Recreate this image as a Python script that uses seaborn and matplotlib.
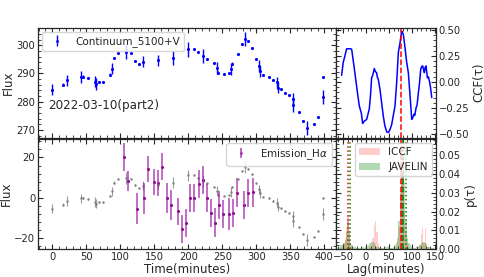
import numpy as np
import pandas as pd
import matplotlib
matplotlib.use("Agg")
import matplotlib.pyplot as plt
from matplotlib.ticker import AutoMinorLocator, MultipleLocator
import seaborn as sns

# ---------------- data ----------------
cont_t = [0.0, 15.3, 21.1, 41.7, 44.6, 53.0, 63.3, 64.3, 68.7, 74.0, 84.8, 87.3, 90.7, 96.1,
          108.4, 116.2, 122.1, 128.0, 133.9, 155.0, 178.0, 199.8, 208.8, 214.7, 221.0, 227.0,
          238.0, 242.0, 244.0, 253.0, 259.4, 262.8, 264.7, 272.6, 278.5, 283.9, 287.8, 293.2,
          299.1, 304.5, 306.0, 310.4, 318.2, 324.0, 330.0, 331.4, 335.8, 341.6, 347.6, 353.5,
          353.5, 362.8, 368.7, 374.5, 384.9, 390.7, 398.0, 398.6]
cont_f = [284.2, 286.0, 287.5, 288.7, 288.8, 288.3, 287.1, 286.3, 286.9, 287.0, 289.5, 291.7,
          295.5, 297.1, 297.5, 297.1, 294.4, 293.3, 294.2, 294.6, 295.5, 298.5, 298.5, 297.5,
          296.1, 295.1, 293.7, 291.9, 290.2, 289.8, 290.0, 291.4, 293.5, 296.9, 300.5, 302.1,
          301.5, 299.0, 295.2, 292.6, 290.8, 289.3, 288.7, 287.6, 286.8, 285.0, 284.4, 283.2,
          282.4, 281.1, 278.7, 276.2, 273.1, 270.8, 272.1, 274.4, 281.8, 288.9]
cont_e = [2.0, 0.5, 2.0, 2.0, 0.5, 0.3, 2.0, 2.0, 0.3, 0.3, 0.5, 2.0, 0.5, 0.3, 2.5, 0.3, 0.3,
          0.3, 2.0, 2.0, 2.5, 2.5, 0.3, 0.3, 2.5, 0.3, 0.3, 2.0, 0.5, 0.3, 0.3, 2.0, 0.5, 0.3,
          0.3, 2.5, 0.3, 0.3, 0.3, 2.0, 2.0, 0.3, 0.3, 0.3, 2.0, 2.0, 0.3, 0.3, 0.3, 2.0, 2.5,
          0.3, 0.3, 2.5, 0.3, 0.3, 2.5, 0.3]

gray_f = [-5.3, -3.3, -1.6, -0.2, -0.1, -0.6, -2.0, -2.9, -2.2, -2.1, 0.8, 3.3, 7.6, 9.5,
          9.9, 9.5, 6.4, 5.1, 6.1, 6.6, 7.6, 11.1, 11.1, 9.9, 8.3, 7.2, 5.6, 3.5, 1.6, 1.1,
          1.3, 2.9, 5.3, 9.2, 13.4, 15.2, 14.5, 11.6, 7.3, 4.3, 2.2, 0.5, -0.2, -1.4, -2.4,
          -4.4, -5.1, -6.5, -7.4, -8.9, -11.6, -14.5, -18.1, -20.7, -19.2, -16.6, -8.1, 0.1]
gray_e = [2.3, 0.6, 2.3, 2.3, 0.6, 0.3, 2.3, 2.3, 0.3, 0.3, 0.6, 2.3, 0.6, 0.3, 2.9, 0.3, 0.3,
          0.3, 2.3, 2.3, 2.9, 2.9, 0.3, 0.3, 2.9, 0.3, 0.3, 2.3, 0.6, 0.3, 0.3, 2.3, 0.6, 0.3,
          0.3, 2.9, 0.3, 0.3, 0.3, 2.3, 2.3, 0.3, 0.3, 0.3, 2.3, 2.3, 0.3, 0.3, 0.3, 2.3, 2.9,
          0.3, 0.3, 2.9, 0.3, 0.3, 2.9, 0.3]

ha_t = [105.9, 111.8, 124.0, 135.3, 141.2, 150.0, 155.9, 161.8, 169.2, 175.0, 184.4, 190.3,
        196.0, 201.8, 207.6, 215.3, 221.4, 227.0, 232.9, 238.8, 244.7, 250.6, 260.4, 266.2,
        272.1, 282.2, 288.0, 295.1]
ha_f = [20.2, 8.5, -5.3, -0.3, 14.3, 7.7, 7.2, 15.5, -0.2, -3.5, -6.7, -15.5, -12.6, -0.1,
        -0.1, 6.7, 8.8, -0.2, -7.5, -12.2, -3.6, -8.0, -7.9, -7.5, 2.6, -3.6, 2.5, 2.7]
ha_e = [7.0, 5.0, 7.5, 7.5, 6.5, 6.5, 6.5, 6.5, 7.5, 7.5, 6.5, 7.0, 7.0, 7.0, 7.0, 7.0, 7.0,
        7.0, 7.0, 7.0, 7.0, 7.0, 8.0, 7.0, 7.0, 7.0, 7.0, 7.0]

ccf_lag = [-52.8, -49.3, -45.7, -42.0, -38.0, -33.3, -31.0, -26.0, -20.3, -14.5, -10.0, -7.2,
           -4.3, 1.5, 7.2, 10.0, 12.3, 15.0, 18.1, 20.5, 23.2, 24.5, 26.8, 30.4, 37.7, 41.0,
           45.0, 48.6, 52.0, 55.8, 63.0, 67.0, 70.3, 74.0, 77.5, 79.0, 81.0, 84.0, 88.4, 92.0,
           97.8, 99.3, 102.0, 104.3, 106.0, 108.7, 111.0, 113.8, 116.0, 118.8, 121.0, 123.2,
           125.0, 126.8, 128.5, 130.4, 133.3, 135.5, 137.7, 140.0, 142.8]
ccf_val = [0.065, 0.19, 0.25, 0.32, 0.32, 0.32, 0.315, 0.155, -0.04, -0.23, -0.30, -0.40,
           -0.38, -0.36, -0.26, -0.12, 0.04, 0.07, 0.13, 0.10, 0.09, 0.05, 0.026, -0.07,
           -0.33, -0.42, -0.48, -0.485, -0.46, -0.41, -0.23, 0.02, 0.285, 0.38, 0.49, 0.48,
           0.46, 0.36, 0.19, 0.09, -0.26, -0.36, -0.34, -0.31, -0.32, -0.25, -0.22, -0.10,
           -0.02, 0.12, 0.15, 0.155, 0.12, 0.09, 0.14, 0.155, 0.04, 0.05, 0.01, -0.05, -0.15]

# histogram bin centres: -60, -57, ..., 150 (width 3)
hist_lag = list(range(-60, 151, 3))
iccf_p = [0.0, 0.0, 0.0, 0.001, 0.003, 0.006, 0.012, 0.018, 0.010, 0.004,      # -60..-33
          0.001, 0.0, 0.0, 0.0, 0.0, 0.0, 0.0, 0.0, 0.0, 0.0,                   # -30..-3
          0.0, 0.0, 0.0, 0.001, 0.002, 0.006, 0.013, 0.015, 0.009, 0.003,       # 0..27
          0.001, 0.0, 0.0, 0.0, 0.0, 0.0, 0.0, 0.0, 0.0, 0.0,                   # 30..57
          0.0, 0.0, 0.001, 0.004, 0.012, 0.030, 0.048, 0.040, 0.020, 0.008,     # 60..87
          0.003, 0.001, 0.0, 0.0, 0.0, 0.0, 0.0, 0.0, 0.0, 0.002,               # 90..117
          0.008, 0.011, 0.004, 0.011, 0.003, 0.001, 0.0, 0.0, 0.0, 0.0,         # 120..147
          0.0]                                                                  # 150
jav_p = [0.001, 0.001, 0.002, 0.002, 0.003, 0.005, 0.009, 0.015, 0.008, 0.003,
         0.002, 0.001, 0.001, 0.0005, 0.0005, 0.0005, 0.0005, 0.001, 0.001, 0.0005,
         0.001, 0.001, 0.002, 0.003, 0.004, 0.004, 0.003, 0.002, 0.001, 0.001,
         0.0005, 0.0005, 0.0005, 0.0005, 0.001, 0.001, 0.001, 0.001, 0.0005, 0.0005,
         0.001, 0.002, 0.003, 0.006, 0.015, 0.030, 0.045, 0.050, 0.035, 0.015,
         0.006, 0.003, 0.002, 0.001, 0.0005, 0.0005, 0.0005, 0.001, 0.001, 0.002,
         0.003, 0.004, 0.003, 0.003, 0.002, 0.001, 0.001, 0.0005, 0.0005, 0.0005,
         0.0]

iccf_med = 76.0
iccf_lims = [-40.0, 78.0]
jav_med = 81.0
jav_lims = [-35.0, 86.0]

# ---------------- style ----------------
sns.set_style("ticks")
plt.rcParams['font.family'] = ['DejaVu Sans']
plt.rcParams['xtick.direction'] = 'in'
plt.rcParams['ytick.direction'] = 'in'
plt.rcParams['axes.linewidth'] = 0.9

TICK = 7.2
LAB = 8.5
LEG = 7.5

fig = plt.figure(figsize=(4.85, 2.77), dpi=100)
L, M, R = 38 / 485, 336 / 485, 436 / 485
T, MT, MB, B = 1 - 28 / 277, 1 - 137.5 / 277, 1 - 138.5 / 277, 1 - 249 / 277
ax1 = fig.add_axes([L, MT, M - L, T - MT])
ax2 = fig.add_axes([L, B, M - L, MB - B])
ax3 = fig.add_axes([M, MT, R - M, T - MT])
ax4 = fig.add_axes([M, B, R - M, MB - B])


def style(ax):
    ax.tick_params(which='both', direction='in', top=True, right=True, left=True, bottom=True,
                   labelsize=TICK, pad=2)
    ax.tick_params(which='major', length=3.5, width=0.8)
    ax.tick_params(which='minor', length=2, width=0.6)
    ax.xaxis.set_minor_locator(AutoMinorLocator(5))
    ax.yaxis.set_minor_locator(AutoMinorLocator(5))


# top-left continuum
dfc = pd.DataFrame({'t': cont_t, 'f': cont_f, 'e': cont_e})
ax1.errorbar(dfc['t'], dfc['f'], yerr=dfc['e'], fmt='none', ecolor='blue', elinewidth=1.0)
sns.scatterplot(data=dfc, x='t', y='f', ax=ax1, color='blue', s=5, linewidth=0, legend=False)
h1 = ax1.errorbar([], [], yerr=[], fmt='.', color='blue', ms=2, elinewidth=1.0)
ax1.legend([h1], ['Continuum_5100+V'], loc='upper left', fontsize=LEG, handlelength=2,
           borderpad=0.4, borderaxespad=0.4, frameon=True)
ax1.set_xlim(-21, 417)
ax1.set_ylim(267.3, 306.1)
ax1.xaxis.set_major_locator(MultipleLocator(50))
ax1.set_yticks([270, 280, 290, 300])
ax1.set_xlabel('')
ax1.set_ylabel('Flux', fontsize=LAB, labelpad=1)
ax1.text(0.035, 0.29, '2022-03-10(part2)', transform=ax1.transAxes, fontsize=8.6,
         va='center', ha='left')
style(ax1)
ax1.tick_params(labelbottom=False)

# bottom-left emission
dfg = pd.DataFrame({'t': cont_t, 'f': gray_f, 'e': gray_e})
dfh = pd.DataFrame({'t': ha_t, 'f': ha_f, 'e': ha_e})
ax2.errorbar(dfg['t'], dfg['f'], yerr=dfg['e'], fmt='none', ecolor='gray', elinewidth=0.8,
             alpha=0.8)
sns.scatterplot(data=dfg, x='t', y='f', ax=ax2, color='gray', s=3, linewidth=0, legend=False)
ax2.errorbar(dfh['t'], dfh['f'], yerr=dfh['e'], fmt='none', ecolor='#a020a8', elinewidth=1.3,
             alpha=0.7)
sns.scatterplot(data=dfh, x='t', y='f', ax=ax2, color='#800080', s=5, linewidth=0,
                legend=False)
h2 = ax2.errorbar([], [], yerr=[], fmt='.', color='#a020a8', ms=2, elinewidth=1.2, alpha=0.8)
ax2.legend([h2], ['Emission_H$\\alpha$'], loc='upper right', fontsize=LEG, handlelength=2,
           borderpad=0.4, borderaxespad=0.4, frameon=True)
ax2.set_xlim(-21, 417)
ax2.set_ylim(-25.3, 29.4)
ax2.xaxis.set_major_locator(MultipleLocator(50))
ax2.set_yticks([-20, 0, 20])
ax2.set_xlabel('Time(minutes)', fontsize=LAB, labelpad=1)
ax2.set_ylabel('Flux', fontsize=LAB, labelpad=1)
style(ax2)

# top-right CCF
dfccf = pd.DataFrame({'lag': ccf_lag, 'ccf': ccf_val})
sns.lineplot(data=dfccf, x='lag', y='ccf', ax=ax3, color='blue', linewidth=1.1, sort=False)
ax3.axvline(iccf_med, color='red', ls='--', lw=1.1)
ax3.set_xlim(-65, 152)
ax3.set_ylim(-0.534, 0.52)
ax3.set_yticks([-0.5, -0.25, 0.0, 0.25, 0.5])
ax3.xaxis.set_major_locator(MultipleLocator(50))
ax3.yaxis.set_label_position('right')
ax3.set_xlabel('')
ax3.set_ylabel('CCF(τ)', fontsize=LAB, labelpad=2)
style(ax3)
ax3.tick_params(labelbottom=False, labelleft=False, labelright=True)

# bottom-right histograms
edges = [c - 1.5 for c in hist_lag] + [hist_lag[-1] + 1.5]
sns.histplot(x=hist_lag, weights=iccf_p, bins=edges, ax=ax4, color='red', alpha=0.2,
             linewidth=0, label='ICCF', stat='count')
sns.histplot(x=hist_lag, weights=jav_p, bins=edges, ax=ax4, color='green', alpha=0.3,
             linewidth=0, label='JAVELIN', stat='count')
ax4.axvline(iccf_med, color='red', ls='--', lw=1.1)
for v in iccf_lims:
    ax4.axvline(v, color='red', ls=':', lw=1.1)
ax4.axvline(jav_med, color='green', ls='--', lw=1.1)
for v in jav_lims:
    ax4.axvline(v, color='green', ls=':', lw=1.1)
ax4.set_xlim(-65, 152)
ax4.set_ylim(0, 0.059)
ax4.set_yticks([0.0, 0.01, 0.02, 0.03, 0.04, 0.05])
ax4.xaxis.set_major_locator(MultipleLocator(50))
ax4.legend(loc='upper right', fontsize=LEG, borderpad=0.4, borderaxespad=0.4, frameon=True)
ax4.yaxis.set_label_position('right')
ax4.set_xlabel('Lag(minutes)', fontsize=LAB, labelpad=1)
ax4.set_ylabel('p(τ)', fontsize=LAB, labelpad=2)
style(ax4)
ax4.tick_params(labelleft=False, labelright=True)

fig.savefig('out.png', dpi=100)
